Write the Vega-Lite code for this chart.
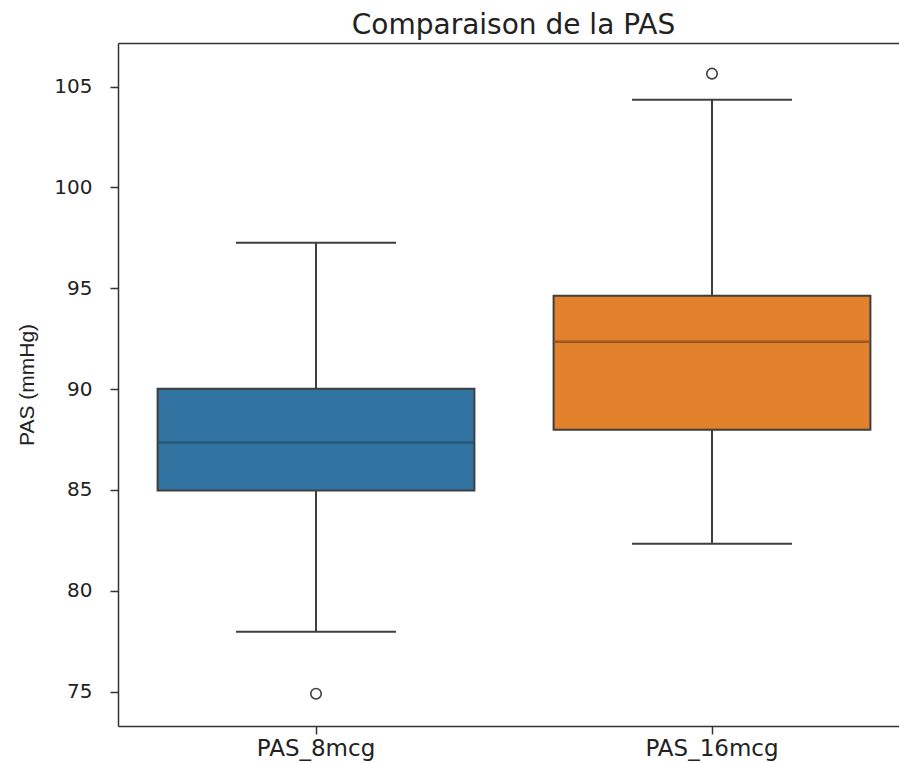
{
  "$schema": "https://vega.github.io/schema/vega-lite/v6.json",
  "autosize": {"type": "none"},
  "padding": {"left": 118, "top": 43, "right": 0, "bottom": 37},
  "width": 781,
  "height": 683,
  "background": "white",
  "config": {"view": {"stroke": null}},
  "title": {
    "text": "Comparaison de la PAS",
    "font": "DejaVu Sans",
    "fontSize": 28,
    "fontWeight": "normal",
    "color": "#222222",
    "anchor": "middle",
    "dx": 5,
    "offset": 3
  },
  "datasets": {
    "boxes": [
      {"group": "PAS_8mcg", "lower": 77.97, "q1": 84.97, "median": 87.35, "q3": 90.02, "upper": 97.26},
      {"group": "PAS_16mcg", "lower": 82.34, "q1": 87.99, "median": 92.35, "q3": 94.63, "upper": 104.35}
    ],
    "outliers": [
      {"group": "PAS_8mcg", "value": 74.9},
      {"group": "PAS_16mcg", "value": 105.64}
    ]
  },
  "resolve": {"axis": {"x": "independent"}},
  "layer": [
    {
      "data": {"name": "boxes"},
      "mark": {"type": "rule", "color": "#3f3f3f", "strokeWidth": 2},
      "encoding": {
        "x": {
          "field": "group", "type": "nominal", "sort": ["PAS_8mcg", "PAS_16mcg"],
          "scale": {"range": [0, 792], "paddingInner": 0, "paddingOuter": 0},
          "axis": {
            "orient": "bottom", "title": null, "labelAngle": 0,
            "labelFont": "DejaVu Sans", "labelFontSize": 23, "labelColor": "#222222",
            "labelPadding": 3, "tickSize": 8, "tickWidth": 1.5, "tickColor": "#333333",
            "domainColor": "#333333", "domainWidth": 1.5, "grid": false
          }
        },
        "y": {
          "field": "lower", "type": "quantitative",
          "scale": {"domain": [73.3, 107.16], "nice": false, "zero": false},
          "axis": {
            "values": [75, 80, 85, 90, 95, 100, 105],
            "title": "PAS (mmHg)", "titleFont": "Liberation Sans", "titleFontSize": 21,
            "titleFontWeight": "normal", "titleColor": "#222222", "titlePadding": 16,
            "labelFont": "DejaVu Sans", "labelFontSize": 20, "labelColor": "#222222",
            "labelPadding": 18, "tickSize": 8, "tickWidth": 1.5, "tickColor": "#333333",
            "domainColor": "#333333", "domainWidth": 1.5, "grid": false
          }
        },
        "y2": {"field": "upper"}
      }
    },
    {
      "data": {"name": "boxes"},
      "mark": {"type": "bar", "width": {"band": 0.8}, "stroke": "#3f3f3f", "strokeWidth": 2, "opacity": 1},
      "encoding": {
        "x": {"field": "group", "type": "nominal", "sort": ["PAS_8mcg", "PAS_16mcg"], "axis": null},
        "y": {"field": "q1", "type": "quantitative"},
        "y2": {"field": "q3"},
        "color": {
          "field": "group", "type": "nominal",
          "scale": {"domain": ["PAS_8mcg", "PAS_16mcg"], "range": ["#3274a1", "#e1812c"]},
          "legend": null
        }
      }
    },
    {
      "data": {"name": "boxes"},
      "mark": {"type": "tick", "size": 316, "thickness": 2.5, "opacity": 1},
      "encoding": {
        "x": {"field": "group", "type": "nominal", "sort": ["PAS_8mcg", "PAS_16mcg"], "axis": null},
        "y": {"field": "median", "type": "quantitative"},
        "fill": {
          "field": "group", "type": "nominal",
          "scale": {"domain": ["PAS_8mcg", "PAS_16mcg"], "range": ["#2a5677", "#9c571e"]},
          "legend": null
        }
      }
    },
    {
      "data": {"name": "boxes"},
      "mark": {"type": "tick", "size": 160, "thickness": 2, "color": "#3f3f3f", "opacity": 1},
      "encoding": {
        "x": {"field": "group", "type": "nominal", "sort": ["PAS_8mcg", "PAS_16mcg"], "axis": null},
        "y": {"field": "lower", "type": "quantitative"}
      }
    },
    {
      "data": {"name": "boxes"},
      "mark": {"type": "tick", "size": 160, "thickness": 2, "color": "#3f3f3f", "opacity": 1},
      "encoding": {
        "x": {"field": "group", "type": "nominal", "sort": ["PAS_8mcg", "PAS_16mcg"], "axis": null},
        "y": {"field": "upper", "type": "quantitative"}
      }
    },
    {
      "data": {"name": "outliers"},
      "mark": {"type": "point", "shape": "circle", "filled": false, "size": 110, "stroke": "#3f3f3f", "strokeWidth": 1.6, "opacity": 1},
      "encoding": {
        "x": {
          "field": "group", "type": "nominal", "sort": ["PAS_8mcg", "PAS_16mcg"],
          "axis": {"orient": "top", "title": null, "labels": false, "ticks": false, "domain": true, "domainColor": "#333333", "domainWidth": 1.5, "grid": false}
        },
        "y": {"field": "value", "type": "quantitative"}
      }
    }
  ]
}
